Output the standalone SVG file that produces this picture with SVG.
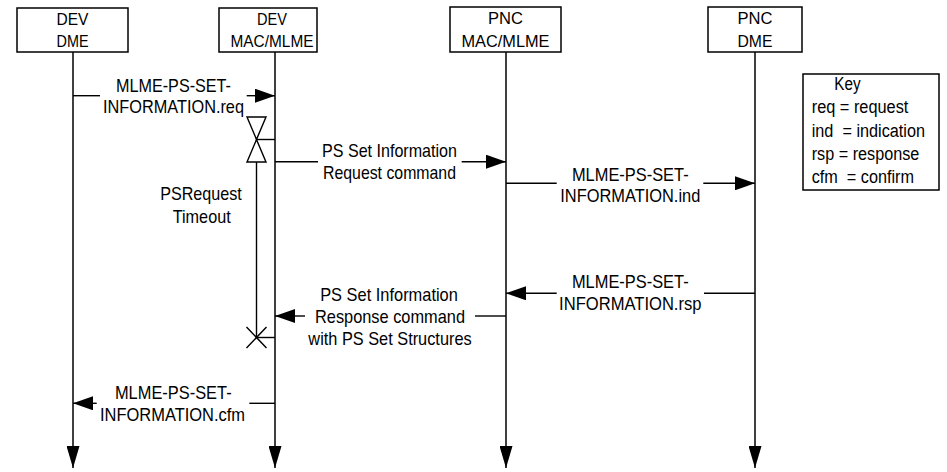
<svg xmlns="http://www.w3.org/2000/svg" width="947" height="472" viewBox="0 0 947 472">
<defs>
<style>
.box{fill:#fff;stroke:#000;stroke-width:1.5}
.ll{fill:none;stroke:#000;stroke-width:1.5}
.msg{fill:none;stroke:#000;stroke-width:1.4}
text{font-family:'Liberation Sans Narrow','Liberation Sans',Arial,sans-serif;fill:#000}
.bt{font-size:17px;text-anchor:middle}
.lt{font-size:19px;text-anchor:middle}
.lts{font-size:18.5px;text-anchor:middle}
.kt{font-size:18px}
</style>
<marker id="ah" markerUnits="userSpaceOnUse" markerWidth="20" markerHeight="14" refX="20" refY="7" orient="auto"><path d="M0,0 L20,7 L0,14 Z" fill="#000"/></marker>
<marker id="lh" markerUnits="userSpaceOnUse" markerWidth="22" markerHeight="13" refX="22" refY="6.5" orient="auto"><path d="M0,0 L22,6.5 L0,13 Z" fill="#000"/></marker>
</defs>
<rect width="947" height="472" fill="#fff"/>

<g id="dev-dme">
<rect class="box" x="17" y="8" width="111" height="44"/>
<text class="bt" x="72.5" y="25" textLength="32" lengthAdjust="spacingAndGlyphs">DEV</text>
<text class="bt" x="72.5" y="47" textLength="32" lengthAdjust="spacingAndGlyphs">DME</text>
<line class="ll" x1="73" y1="52" x2="73" y2="468" marker-end="url(#lh)"/>
</g>

<g id="dev-mac">
<rect class="box" x="219" y="8" width="98" height="44"/>
<text class="bt" x="272" y="25" textLength="30" lengthAdjust="spacingAndGlyphs">DEV</text>
<text class="bt" x="272" y="47" textLength="83" lengthAdjust="spacingAndGlyphs">MAC/MLME</text>
<line class="ll" x1="275" y1="52" x2="275" y2="468" marker-end="url(#lh)"/>
</g>

<g id="pnc-mac">
<rect class="box" x="450" y="7" width="111" height="45"/>
<text class="bt" x="505.5" y="24" textLength="35" lengthAdjust="spacingAndGlyphs">PNC</text>
<text class="bt" x="505.5" y="47" textLength="88" lengthAdjust="spacingAndGlyphs">MAC/MLME</text>
<line class="ll" x1="506" y1="52" x2="506" y2="468" marker-end="url(#lh)"/>
</g>

<g id="pnc-dme">
<rect class="box" x="708" y="7" width="94" height="45"/>
<text class="bt" x="755" y="24" textLength="35" lengthAdjust="spacingAndGlyphs">PNC</text>
<text class="bt" x="755" y="47" textLength="35" lengthAdjust="spacingAndGlyphs">DME</text>
<line class="ll" x1="755" y1="52" x2="755" y2="468" marker-end="url(#lh)"/>
</g>

<g id="key">
<rect class="box" x="803" y="74" width="136" height="116"/>
<text class="kt" x="834.3" y="90" textLength="26.3" lengthAdjust="spacingAndGlyphs">Key</text>
<text class="kt" x="811.7" y="113.3" textLength="96.7" lengthAdjust="spacingAndGlyphs">req = request</text>
<text class="kt" x="811.7" y="136.7" textLength="113.3" lengthAdjust="spacingAndGlyphs" xml:space="preserve">ind  = indication</text>
<text class="kt" x="811.7" y="160" textLength="107.7" lengthAdjust="spacingAndGlyphs">rsp = response</text>
<text class="kt" x="811.7" y="183.3" textLength="102.3" lengthAdjust="spacingAndGlyphs" xml:space="preserve">cfm  = confirm</text>
</g>

<g id="timer">
<path class="msg" d="M247,117 L266,117 L247,162 L266,162 Z" fill="#fff"/>
<line class="msg" x1="256.5" y1="139.5" x2="275" y2="139.5"/>
<line class="msg" x1="256.5" y1="162" x2="256.5" y2="337.5"/>
<path class="msg" d="M246.5,327 L266.5,348 M246.5,348 L266.5,327"/>
<line class="msg" x1="256.5" y1="337.5" x2="275" y2="337.5"/>
<text class="lt" x="201" y="200" textLength="81.7" lengthAdjust="spacingAndGlyphs">PSRequest</text>
<text class="lt" x="201.7" y="223" textLength="58" lengthAdjust="spacingAndGlyphs">Timeout</text>
</g>

<g id="connectors">
<g id="req">
<line class="msg" x1="73" y1="95.7" x2="100" y2="95.7"/>
<line class="msg" x1="246.7" y1="95.7" x2="275" y2="95.7" marker-end="url(#ah)"/>
<text class="lts" x="173.5" y="92.3" textLength="115" lengthAdjust="spacingAndGlyphs">MLME-PS-SET-</text>
<text class="lts" x="173.5" y="113.2" textLength="141" lengthAdjust="spacingAndGlyphs">INFORMATION.req</text>
</g>
<g id="req-cmd">
<line class="msg" x1="275" y1="161.7" x2="318" y2="161.7"/>
<line class="msg" x1="461.7" y1="161.7" x2="506" y2="161.7" marker-end="url(#ah)"/>
<text class="lt" x="389.5" y="156.5" textLength="135" lengthAdjust="spacingAndGlyphs">PS Set Information</text>
<text class="lt" x="389.5" y="178.5" textLength="133" lengthAdjust="spacingAndGlyphs">Request command</text>
</g>
<g id="ind">
<line class="msg" x1="506" y1="183.3" x2="556.7" y2="183.3"/>
<line class="msg" x1="703.3" y1="183.3" x2="755" y2="183.3" marker-end="url(#ah)"/>
<text class="lt" x="630.3" y="180.5" textLength="116.7" lengthAdjust="spacingAndGlyphs">MLME-PS-SET-</text>
<text class="lt" x="630.3" y="201.8" textLength="140" lengthAdjust="spacingAndGlyphs">INFORMATION.ind</text>
</g>
<g id="rsp">
<line class="msg" x1="755" y1="293.3" x2="704" y2="293.3"/>
<line class="msg" x1="556.7" y1="293.3" x2="506" y2="293.3" marker-end="url(#ah)"/>
<text class="lt" x="630.3" y="288" textLength="116.7" lengthAdjust="spacingAndGlyphs">MLME-PS-SET-</text>
<text class="lt" x="630.3" y="310" textLength="142.4" lengthAdjust="spacingAndGlyphs">INFORMATION.rsp</text>
</g>
<g id="rsp-cmd">
<line class="msg" x1="506" y1="316" x2="475" y2="316"/>
<line class="msg" x1="305" y1="316" x2="275" y2="316" marker-end="url(#ah)"/>
<text class="lt" x="389" y="301" textLength="137.7" lengthAdjust="spacingAndGlyphs">PS Set Information</text>
<text class="lt" x="390" y="323" textLength="150" lengthAdjust="spacingAndGlyphs">Response command</text>
<text class="lt" x="390" y="345" textLength="163.3" lengthAdjust="spacingAndGlyphs">with PS Set Structures</text>
</g>
<g id="cfm">
<line class="msg" x1="275" y1="403.3" x2="249.3" y2="403.3"/>
<line class="msg" x1="96.7" y1="403.3" x2="73" y2="403.3" marker-end="url(#ah)"/>
<text class="lt" x="173.3" y="398.5" textLength="116.7" lengthAdjust="spacingAndGlyphs">MLME-PS-SET-</text>
<text class="lt" x="172.5" y="421" textLength="145" lengthAdjust="spacingAndGlyphs">INFORMATION.cfm</text>
</g>
</g>
</svg>
